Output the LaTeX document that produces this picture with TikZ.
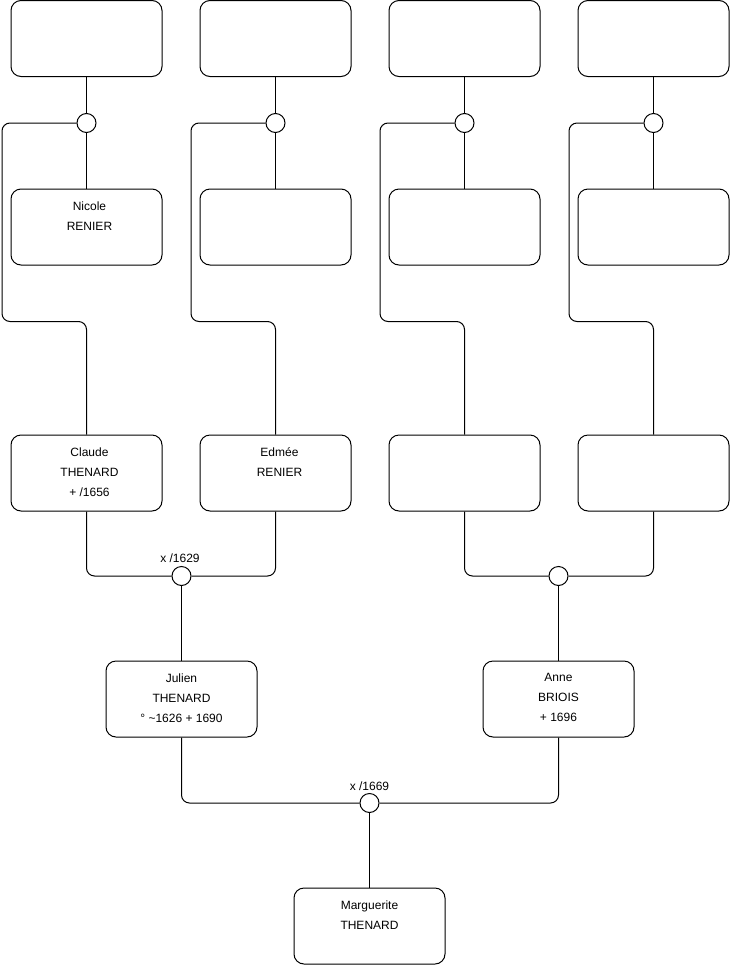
\documentclass[tikz,border=0pt]{standalone}
\usepackage{fontspec}
\setmainfont{Liberation Sans}
\begin{document}
\begin{tikzpicture}[x=1pt,y=-1pt,
  person/.style={draw=black, line width=1pt, rounded corners=10pt, minimum width=151pt, minimum height=76pt, inner sep=0pt, fill=white},
  union/.style={draw=black, line width=1pt, circle, minimum size=19pt, inner sep=0pt, fill=white},
  conn/.style={draw=black, line width=1pt, rounded corners=8pt},
  txt/.style={font=\fontsize{12}{20}\selectfont, align=center, inner sep=0pt, anchor=north, text=black},
  lbl/.style={font=\fontsize{12}{14}\selectfont, inner sep=0pt, text=black}]
\useasboundingbox (0,0) rectangle (740,975);
% top row
\node[person] (t1) at (86.5,38.5) {};
\node[person] (t2) at (275.5,38.5) {};
\node[person] (t3) at (464.5,38.5) {};
\node[person] (t4) at (653.5,38.5) {};
% second row
\node[person] (s1) at (86.5,227) {};
\node[person] (s2) at (275.5,227) {};
\node[person] (s3) at (464.5,227) {};
\node[person] (s4) at (653.5,227) {};
% third row
\node[person] (p1) at (86.5,473) {};
\node[person] (p2) at (275.5,473) {};
\node[person] (p3) at (464.5,473) {};
\node[person] (p4) at (653.5,473) {};
% fourth row
\node[person] (jul) at (181.5,699) {};
\node[person] (ann) at (558.5,699) {};
% bottom
\node[person] (mar) at (369.5,926) {};
% unions
\node[union] (c1) at (86.5,123) {};
\node[union] (c2) at (275.5,123) {};
\node[union] (c3) at (464.5,123) {};
\node[union] (c4) at (653.5,123) {};
\node[union] (m1) at (181.5,576) {};
\node[union] (m2) at (558.5,576) {};
\node[union] (m3) at (369.5,803) {};
% connectors top
\draw[conn] (t1.south) -- (c1.north);
\draw[conn] (t2.south) -- (c2.north);
\draw[conn] (t3.south) -- (c3.north);
\draw[conn] (t4.south) -- (c4.north);
\draw[conn] (c1.south) -- (s1.north);
\draw[conn] (c2.south) -- (s2.north);
\draw[conn] (c3.south) -- (s3.north);
\draw[conn] (c4.south) -- (s4.north);
\draw[conn] (c1.west) -- (2,123) -- (2,321.5) -- (86.5,321.5) -- (p1.north);
\draw[conn] (c2.west) -- (191,123) -- (191,321.5) -- (275.5,321.5) -- (p2.north);
\draw[conn] (c3.west) -- (380,123) -- (380,321.5) -- (464.5,321.5) -- (p3.north);
\draw[conn] (c4.west) -- (569,123) -- (569,321.5) -- (653.5,321.5) -- (p4.north);
% connectors lower
\draw[conn] (p1.south) |- (m1.west);
\draw[conn] (p2.south) |- (m1.east);
\draw[conn] (p3.south) |- (m2.west);
\draw[conn] (p4.south) |- (m2.east);
\draw[conn] (m1.south) -- (jul.north);
\draw[conn] (m2.south) -- (ann.north);
\draw[conn] (jul.south) |- (m3.west);
\draw[conn] (ann.south) |- (m3.east);
\draw[conn] (m3.south) -- (mar.north);
% texts
\node[txt] (tn1) at ([xshift=3pt,yshift=-13pt]s1.north) {Nicole\\RENIER};
\node[txt] (tp1) at ([xshift=3pt,yshift=-13pt]p1.north) {Claude\\THENARD\\+ /1656};
\node[txt] (tp2) at ([xshift=4pt,yshift=-13pt]p2.north) {Edmée\\RENIER};
\node[txt] (tj) at ([yshift=-13pt]jul.north) {Julien\\THENARD\\° \textasciitilde1626 + 1690};
\node[txt] (ta) at ([yshift=-13pt]ann.north) {Anne\\BRIOIS\\+ 1696};
\node[txt] (tm) at ([yshift=-13pt]mar.north) {Marguerite\\THENARD};
\node[lbl] (l1) at (180,558) {x /1629};
\node[lbl] (l2) at (369.5,786) {x /1669};
\end{tikzpicture}
\end{document}
